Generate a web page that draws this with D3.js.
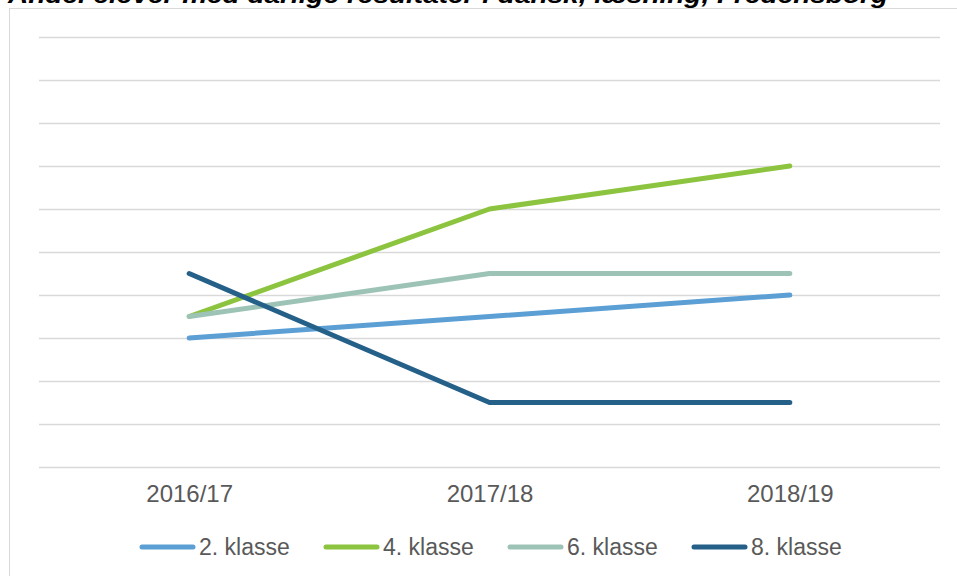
<!DOCTYPE html>
<html>
<head>
<meta charset="utf-8">
<script src="https://cdn.jsdelivr.net/npm/d3@7"></script>
<style>
  body { margin: 0; background: #fff; }
  text { font-family: "Liberation Sans", Arial, sans-serif; }
</style>
</head>
<body>
<div id="graph-container"></div>
<script>
// Data (y axis has no labels, units = gridline steps)
const years = ["2016/17", "2017/18", "2018/19"];
const klasse2 = [3, 3.5, 4];
const klasse4 = [3.5, 6, 7];
const klasse6 = [3.5, 4.5, 4.5];
const klasse8 = [4.5, 1.5, 1.5];
const seriesNames = ["2. klasse", "4. klasse", "6. klasse", "8. klasse"];
const seriesColors = ["#5b9fd5", "#8cc43f", "#9dc3b7", "#256089"];
const yTicks = d3.range(0, 11);

const series = [klasse2, klasse4, klasse6, klasse8].map((values, i) => ({
    name: seriesNames[i],
    color: seriesColors[i],
    values: values.map((v, j) => ({ year: years[j], value: v }))
}));

const W = 957, H = 576;
const margin = { top: 37, right: 17, bottom: 109, left: 39 };
const width = W - margin.left - margin.right;
const height = H - margin.top - margin.bottom;

const svg = d3.select("#graph-container")
    .append("svg")
        .attr("width", W)
        .attr("height", H);

// chart frame
svg.append("rect")
    .attr("x", 9.5)
    .attr("y", 8.5)
    .attr("width", W + 20)
    .attr("height", H + 20)
    .attr("fill", "none")
    .attr("stroke", "#d9d9d9")
    .attr("stroke-width", 1);

// title, cut off at the top like in the original
svg.append("text")
    .attr("x", 8)
    .attr("y", 2.5)
    .attr("font-size", 23)
    .attr("font-weight", "bold")
    .attr("font-style", "italic")
    .attr("fill", "#000")
    .attr("textLength", 880)
    .attr("lengthAdjust", "spacingAndGlyphs")
    .text("Andel elever med dårlige resultater i dansk, læsning, Fredensborg");

const g = svg.append("g")
    .attr("transform", `translate(${margin.left},${margin.top})`);

const x = d3.scalePoint()
    .domain(years)
    .range([0, width])
    .padding(0.5);

const y = d3.scaleLinear()
    .domain([0, 10])
    .range([height, 0]);

// gridlines
g.append("g")
    .call(d3.axisLeft(y).tickValues(yTicks).tickSize(-width).tickFormat(""))
    .call(a => a.select(".domain").remove())
    .call(a => a.selectAll(".tick line")
        .attr("stroke", "#d9d9d9")
        .attr("stroke-width", 1.5));

// x axis labels
g.append("g")
    .attr("transform", `translate(0,${height})`)
    .call(d3.axisBottom(x).tickSize(0).tickPadding(18))
    .call(a => a.select(".domain").remove())
    .call(a => a.selectAll(".tick text")
        .attr("font-size", 24)
        .attr("font-family", "Liberation Sans, Arial, sans-serif")
        .attr("fill", "#595959"));

const line = d3.line()
    .x(d => x(d.year))
    .y(d => y(d.value));

g.selectAll(".series")
    .data(series)
    .join("path")
        .attr("class", "series")
        .attr("fill", "none")
        .attr("stroke", d => d.color)
        .attr("stroke-width", 5)
        .attr("stroke-linecap", "round")
        .attr("stroke-linejoin", "round")
        .attr("d", d => line(d.values));

// legend
const legendX = [140, 324, 508, 692];
const legend = svg.append("g")
    .attr("transform", "translate(0,547)");

const item = legend.selectAll(".item")
    .data(series)
    .join("g")
        .attr("class", "item")
        .attr("transform", (d, i) => `translate(${legendX[i]},0)`);

item.append("line")
    .attr("x1", 2)
    .attr("x2", 53)
    .attr("stroke", d => d.color)
    .attr("stroke-width", 5)
    .attr("stroke-linecap", "round");

item.append("text")
    .attr("x", 59)
    .attr("dy", "0.35em")
    .attr("font-size", 23)
    .attr("fill", "#595959")
    .text(d => d.name);
</script>
</body>
</html>
